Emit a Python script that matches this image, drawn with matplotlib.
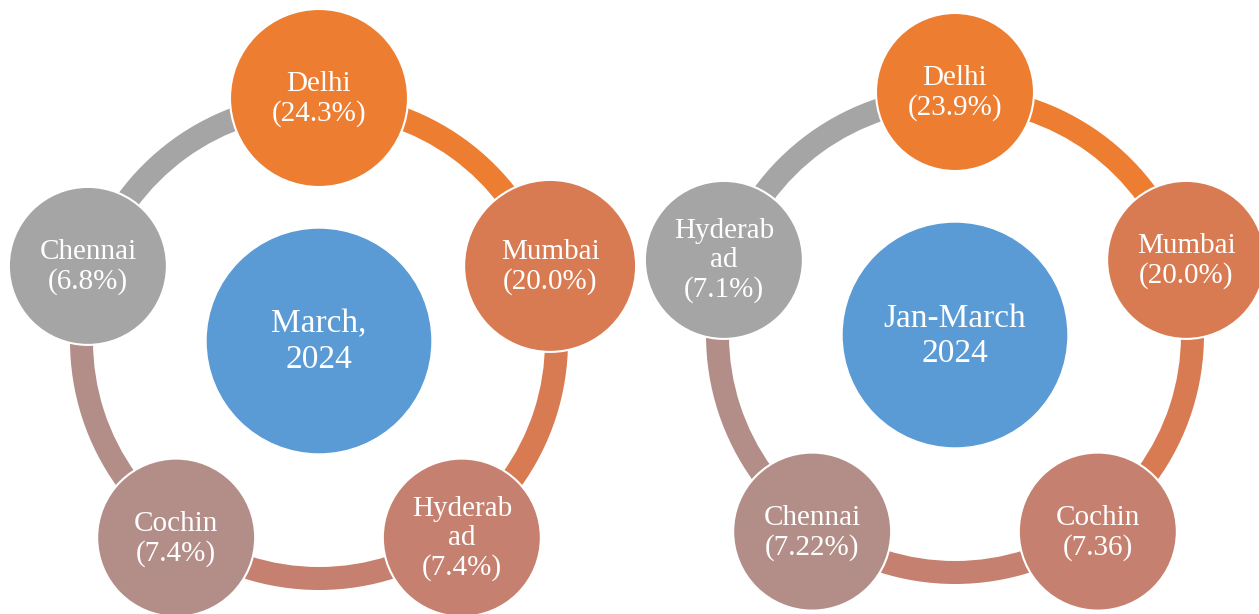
import matplotlib
matplotlib.use("Agg")
import matplotlib.pyplot as plt
from matplotlib.patches import Circle, Wedge
import numpy as np

# data, clockwise from the top node
march_cities = ["Delhi", "Mumbai", "Hyderab\nad", "Cochin", "Chennai"]
march_share = ["24.3%", "20.0%", "7.4%", "7.4%", "6.8%"]
march_title = "March,\n2024"

jan_cities = ["Delhi", "Mumbai", "Cochin", "Chennai", "Hyderab\nad"]
jan_share = ["23.9%", "20.0%", "7.36", "7.22%", "7.1%"]
jan_title = "Jan-March\n2024"

node_colors = ["#ED7D31", "#D87B52", "#C5806F", "#B38E88", "#A5A5A5"]
hub_color = "#5B9BD5"

plt.rcParams['font.family'] = ['Liberation Serif', 'DejaVu Serif']

fig = plt.figure(figsize=(12.59, 6.14), dpi=100)
ax = fig.add_axes([0, 0, 1, 1])
ax.set_xlim(0, 1259)
ax.set_ylim(614, 0)
ax.axis("off")


def cycle(cx, cy, cities, shares, title, radii):
    ring_r, ring_w, node_r = 249, 23, 243
    angles = [-90 + 72 * i for i in range(5)]
    # ring pieces between nodes
    for i in range(5):
        ax.add_patch(Wedge((cx, cy), ring_r, angles[i], angles[i] + 72,
                           width=ring_w, facecolor=node_colors[i], edgecolor="none", zorder=1))
    # hub
    ax.add_patch(Circle((cx, cy), 113, facecolor=hub_color, edgecolor="white", lw=1, zorder=2))
    ax.text(cx, cy + 1, title, color="white", fontsize=24, ha="center", va="center",
            linespacing=1.2, zorder=4)
    # nodes
    for i in range(5):
        a = np.radians(angles[i])
        x = cx + node_r * np.cos(a)
        y = cy + node_r * np.sin(a)
        ax.add_patch(Circle((x, y), radii[i], facecolor=node_colors[i], edgecolor="white",
                            lw=1.5, zorder=3))
        ax.text(x, y + 1, cities[i] + "\n(" + shares[i] + ")", color="white", fontsize=21,
                ha="center", va="center", linespacing=1.15, zorder=4)


cycle(319, 341, march_cities, march_share, march_title, [89, 86, 79, 79, 79])
cycle(955, 335, jan_cities, jan_share, jan_title, [79, 79, 79, 79, 79])

fig.savefig("out.png", dpi=100)
